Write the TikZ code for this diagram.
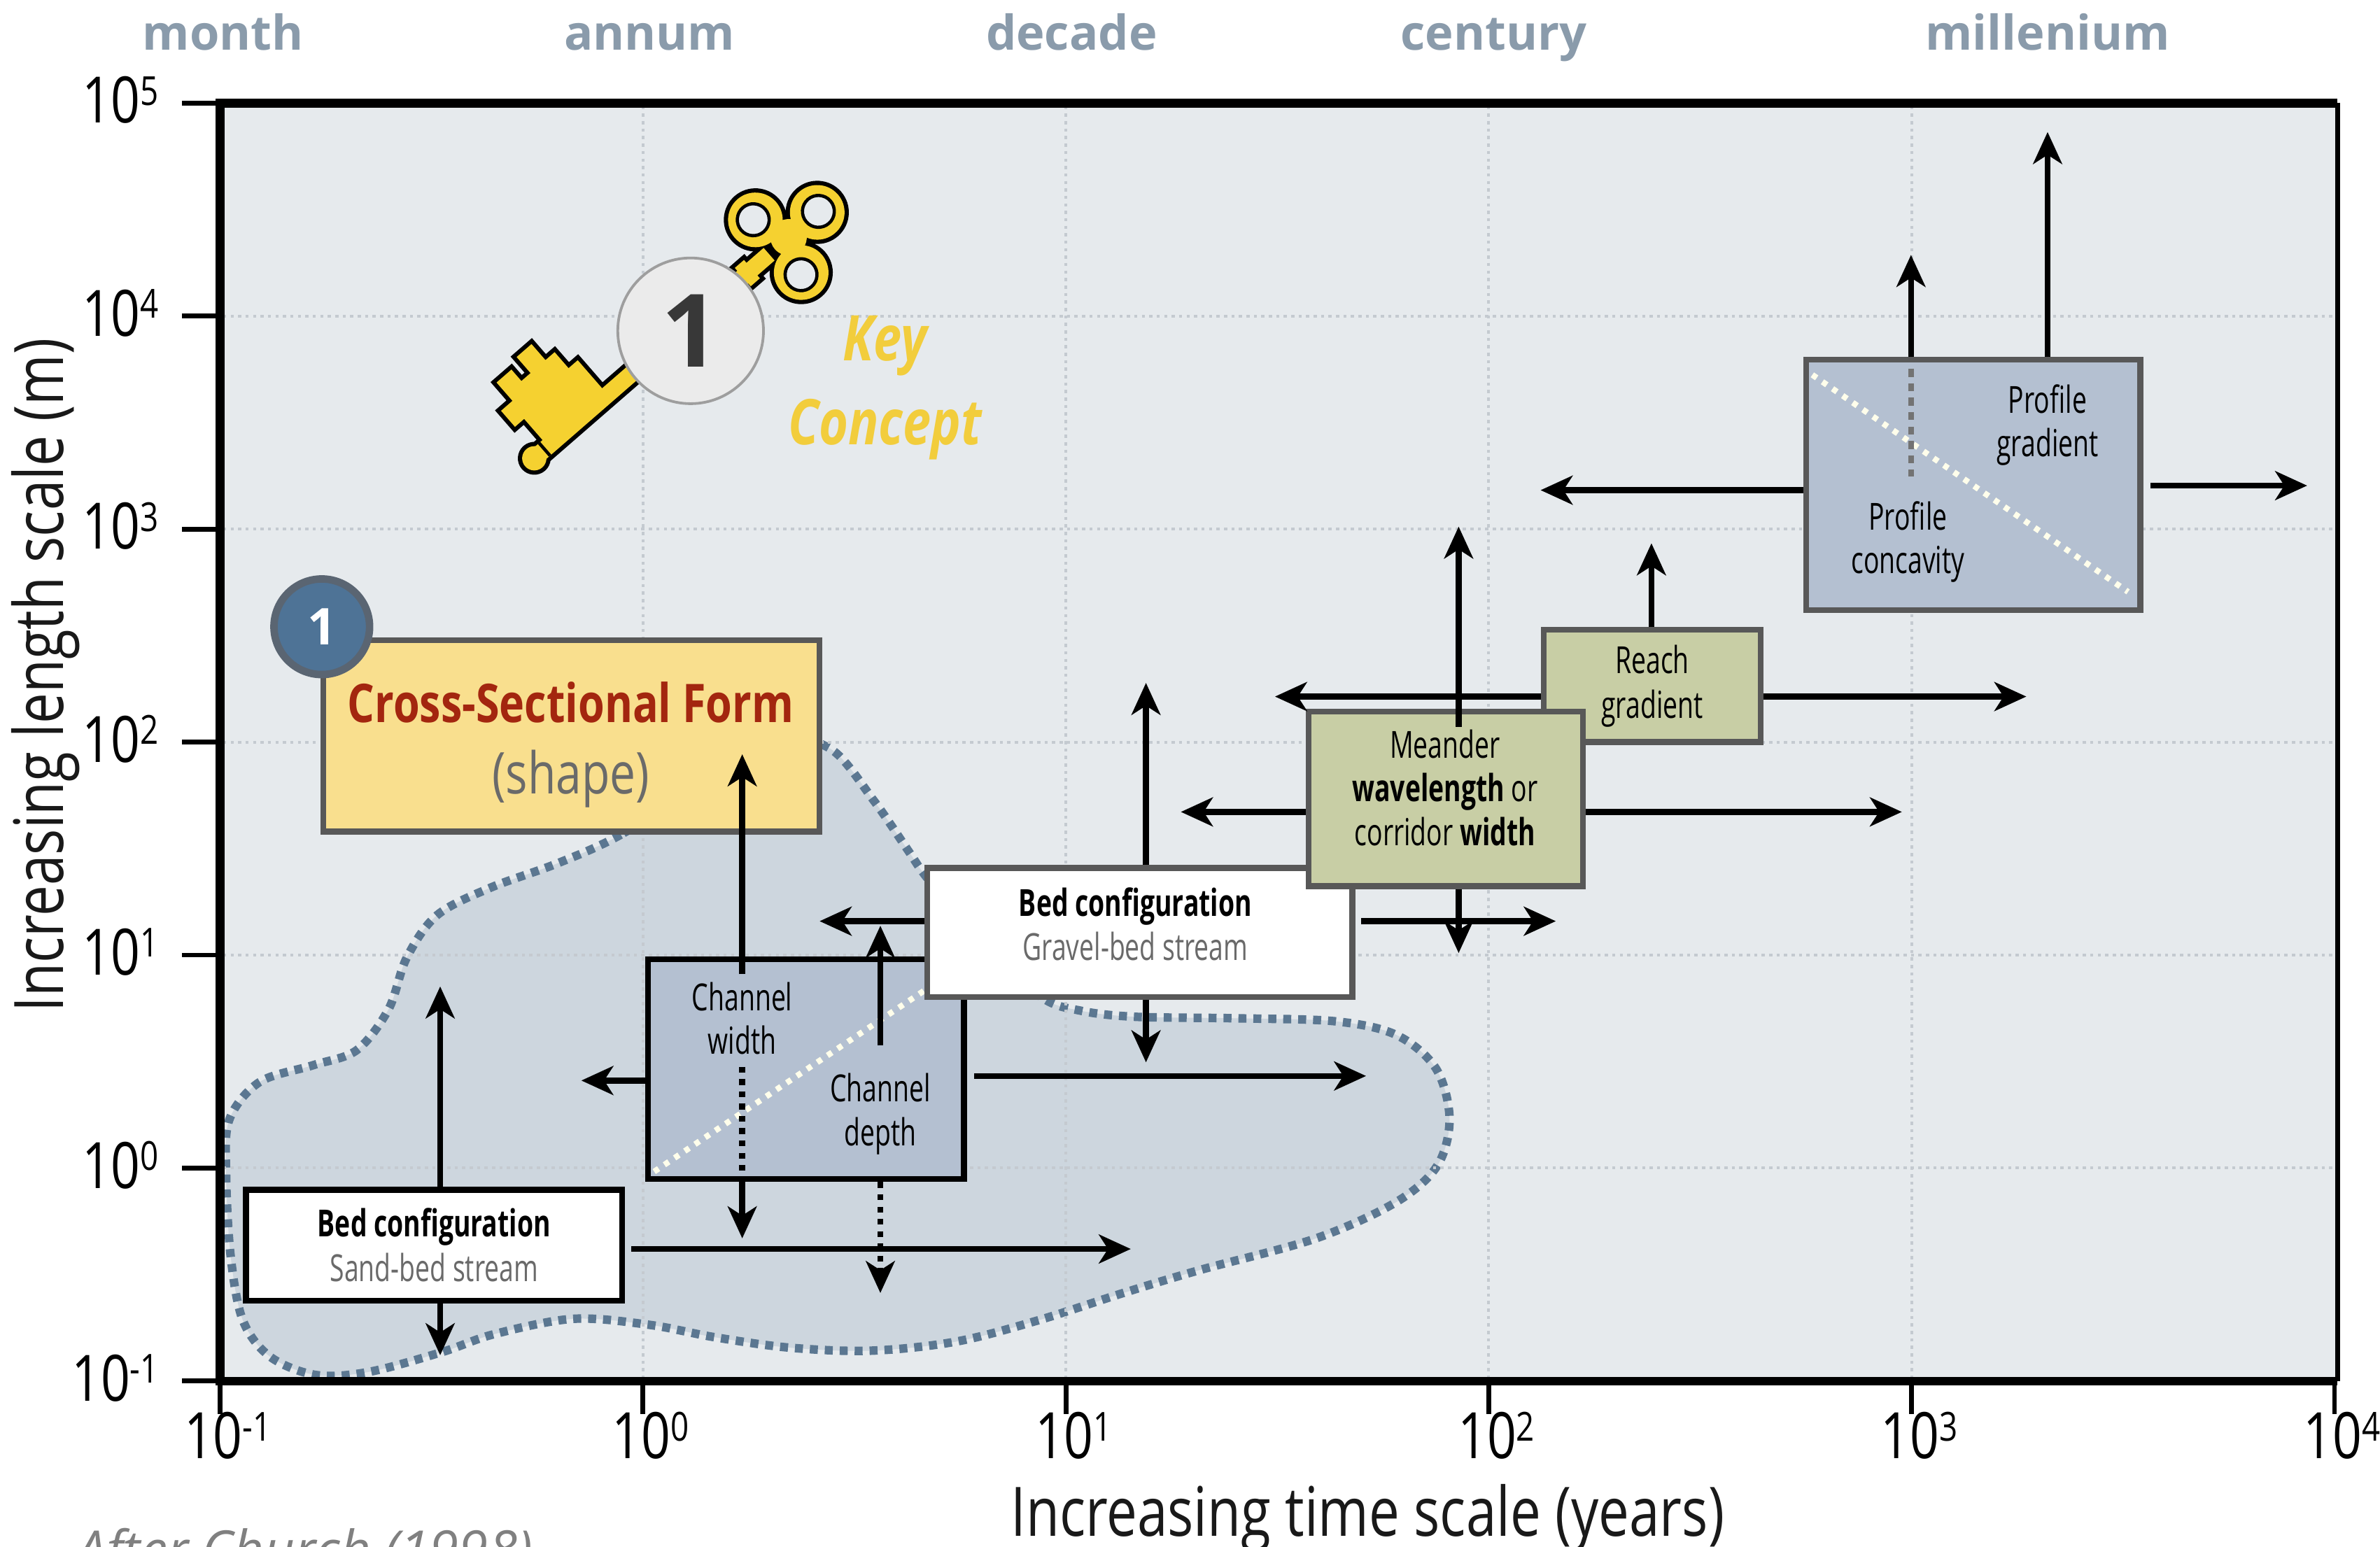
\documentclass[tikz,border=0pt]{standalone}
\usepackage{fontspec}
\setmainfont{Open Sans}
\newfontfamily\cond[FakeStretch=0.8]{Open Sans}
\newfontfamily\narrow[FakeStretch=0.7]{Open Sans}
\usetikzlibrary{arrows.meta}

\definecolor{plotbg}{HTML}{E6EAED}
\definecolor{blobfill}{HTML}{CDD6DE}
\definecolor{blobline}{HTML}{5B7791}
\definecolor{bluebox}{HTML}{B4C0D1}
\definecolor{olivebox}{HTML}{C8CEA5}
\definecolor{yellowbox}{HTML}{F9DF8E}
\definecolor{boxedge}{HTML}{585858}
\definecolor{gridgray}{HTML}{C4CAD0}
\definecolor{scalegray}{HTML}{8A9BAB}
\definecolor{keyyellow}{HTML}{F5D130}
\definecolor{conceptyellow}{HTML}{F2CD3C}
\definecolor{formred}{HTML}{A3260F}
\definecolor{badgeblue}{HTML}{4E7396}
\definecolor{badgeedge}{HTML}{5A6572}
\definecolor{subgray}{HTML}{6A6A6A}

% 10 to the power of #1
\newcommand\tenpow[1]{10\raisebox{0.28em}{\fontsize{7.5pt}{7.5pt}\selectfont#1}}

\tikzset{
  arr/.style={line width=1.1pt,-{Stealth[length=2.1mm,width=1.9mm,inset=0.6mm]}},
  dotarr/.style={arr,dash pattern=on 1.1pt off 1.2pt},
  dotline/.style={line width=1.1pt,dash pattern=on 1.1pt off 1.2pt},
  gridline/.style={gridgray,line width=0.5pt,dash pattern=on 0.6pt off 0.8pt},
  featbox/.style={draw=boxedge,line width=1.1pt,inner sep=0pt,align=center,
    font=\narrow\fontsize{7pt}{8.4pt}\selectfont},
  boxtext/.style={align=center,inner sep=0pt,font=\narrow\fontsize{7pt}{8.2pt}\selectfont},
  scalelab/.style={text=scalegray,anchor=base,font=\bfseries\fontsize{9pt}{9pt}\selectfont},
  ticklab/.style={font=\cond\fontsize{12pt}{12pt}\selectfont},
  axtitle/.style={text=black!90,font=\cond\fontsize{12.8pt}{12.8pt}\selectfont},
  keytext/.style={text=conceptyellow,font=\cond\bfseries\itshape\fontsize{11.8pt}{11.8pt}\selectfont},
  keyline/.style={draw=black,line width=1.6pt},
  keyfill/.style={fill=keyyellow},
}

\begin{document}
\begin{tikzpicture}[x=0.1mm,y=-0.1mm]
	\useasboundingbox (0,0) rectangle (1568,1019);
	%plot area
	\fill[plotbg] (145,68) rectangle (1540,910);
	%range of cross-sectional form
	\filldraw[fill=blobfill,draw=blobline,line width=1.6pt,dash pattern=on 1.5pt off 1.3pt]
		plot[smooth cycle,tension=0.55] coordinates {
		(470,512) (409,550) (367,569) (323,585) (288,603) (268,631) (256,665)
		(235,692) (206,702) (171,713) (151,738) (149,775) (152,828) (160,870)
		(178,894) (208,906) (243,904) (291,891) (326,879) (378,869) (428,873)
		(470,881) (520,888) (574,890) (630,884) (684,870) (740,852) (790,837)
		(867,816) (920,792) (947,768) (955,737) (946,704) (920,682) (880,673)
		(815,671) (748,670) (712,666) (686,657) (648,622) (612,580) (598,560)
		(576,528) (548,494) (515,488)};
	%grid
	\foreach \i in {1,...,4}
		\draw[gridline] ({145+278.6*\i},70) -- ({145+278.6*\i},908);
	\foreach \i in {1,...,5}
		\draw[gridline] (147,{910-140.33*\i}) -- (1538,{910-140.33*\i});
	%axes
	\draw[line width=0.9pt] (1540,68) -- (1540,910);
	\draw[line width=1.6pt,line join=miter] (1540,68) -- (145,68) -- (145,910) -- (1540,910);
	\foreach \e [count=\i from 0] in {-1,0,1,2,3,4,5} {
		\draw[line width=0.9pt] (120,{910-140.33*\i}) -- (145,{910-140.33*\i});
		\node[ticklab,anchor=east] (ly\i) at (117,{908-140.33*\i}) {\tenpow{\e}};
	}
	\foreach \e [count=\i from 0] in {-1,0,1,2,3,4} {
		\draw[line width=0.9pt] ({145+278.6*\i},910) -- ({145+278.6*\i},932);
		\node[ticklab] (lx\i) at ({150+278.6*\i},946) {\tenpow{\e}};
	}
	\node[axtitle,rotate=90] (ytitle) at (30,445) {Increasing length scale (m)};
	\node[axtitle,anchor=base] (xtitle) at (901,1012) {Increasing time scale (years)};
	\node[anchor=base west,text=black!50,font=\itshape\fontsize{10pt}{10pt}\selectfont]
		(source) at (38,1034) {After Church (1998)};
	%time scale names
	\foreach \lab/\xx in {month/147,annum/428,decade/706,century/984,millenium/1349}
		\node[scalelab] (t-\lab) at (\xx,33) {\lab};

	%key
	\begin{scope}[shift={(352,302)},rotate=41,x=0.1mm,y=0.1mm]
		\foreach \st in {keyline,keyfill} {
			\path[\st] (0,0) circle (8);
			\path[\st] (0,-5.5) rectangle (205,5.5);
			\path[\st] (12,5) -- (12,24) -- (4,24) -- (4,38) -- (14,38) -- (14,54)
				-- (27,54) -- (27,44) -- (35,44) -- (35,58) -- (48,58) -- (48,44)
				-- (56,44) -- (56,30) -- (64,30) -- (64,5) -- cycle;
			\path[\st] (166,-10) rectangle (176,10) (182,-8) rectangle (190,8);
			\path[\st] (247,0) circle (18) (213,23) circle (18) (213,-23) circle (18)
				(222,0) circle (12);
		}
		\draw[line width=0.6pt] (9,-5.5) -- (9,5.5);
		\filldraw[fill=plotbg,draw=black,line width=0.6pt]
			(248,0) circle (10.5) (212,24) circle (10.5) (212,-24) circle (10.5);
	\end{scope}
	\node[circle,fill=black!8,draw=black!38,line width=0.5pt,minimum size=9.6mm,
		text=black!78,font=\bfseries\fontsize{19pt}{19pt}\selectfont] (keynum) at (455,218) {1};
	\node[keytext] (key-a) at (583,228) {Key};
	\node[keytext] (key-b) at (583,283) {Concept};

	%boxes
	\node[featbox,fill=yellowbox,minimum width=32.7mm,minimum height=12.6mm] (form) at (376.5,485) {};
	\node[text=formred,font=\cond\bfseries\fontsize{10pt}{10pt}\selectfont] (form-a) at (376,463) {Cross-Sectional Form};
	\node[text=subgray,font=\cond\fontsize{10.8pt}{10.8pt}\selectfont] (form-b) at (376,513) {(shape)};
	\node[circle,fill=badgeblue,draw=badgeedge,line width=1.4pt,minimum size=6.3mm,inner sep=0pt,
		text=white,font=\bfseries\fontsize{9.5pt}{9.5pt}\selectfont] (badge) at (212,413) {1};

	\node[featbox,draw=black,fill=white,minimum width=24.8mm,minimum height=7.3mm] (sand) at (286,820.5)
		{\textbf{Bed configuration}\\{\color{subgray}Sand-bed stream}};
	\node[featbox,draw=black,fill=bluebox,minimum width=20.8mm,minimum height=14.5mm] (chan) at (531,704.5) {};
	\coordinate (cdiagA) at (431,772);
	\coordinate (cdiagB) at (613,650);
	\draw[white!92!yellow,line width=1.1pt,dash pattern=on 1pt off 1.3pt] (cdiagA) -- (cdiagB);
	\node[boxtext] (chan-w) at (489,671) {Channel\\width};
	\node[boxtext] (chan-d) at (580,734) {Channel\\depth};
	\node[featbox,fill=white,minimum width=28mm,minimum height=8.5mm] (grav) at (751,614.5) {};
	\node[boxtext] (grav-t) at (748,609) {\textbf{Bed configuration}\\{\color{subgray}Gravel-bed stream}};
	\node[featbox,fill=olivebox,minimum width=14.3mm,minimum height=7.4mm] (reach) at (1088.5,452)
		{Reach\\gradient};
	\node[featbox,fill=olivebox,minimum width=18.1mm,minimum height=11.5mm] (mean) at (952.5,526.5) {};
	\node[boxtext] (mean-t) at (952,519) {Meander\\\textbf{wavelength} or\\corridor \textbf{width}};
	\node[featbox,fill=bluebox,minimum width=22mm,minimum height=16.5mm] (prof) at (1300,319.5) {};
	\coordinate (pdiagA) at (1194,247);
	\coordinate (pdiagB) at (1402,390);
	\draw[white!92!yellow,line width=1.1pt,dash pattern=on 1pt off 1.3pt] (pdiagA) -- (pdiagB);
	\coordinate (pdash) at (1259,314);
	\draw[black!55,line width=1.1pt,dash pattern=on 1.5pt off 1.2pt] (prof.north -| pdash) ++(0,8) -- (pdash);
	\node[boxtext] (prof-g) at (1349,280) {Profile\\gradient};
	\node[boxtext] (prof-c) at (1257,357) {Profile\\concavity};

	%sand-bed arrows
	\coordinate (sandU) at (290,650);
	\coordinate (sandD) at (290,893);
	\coordinate (sandR) at (745,823);
	\draw[arr] (sand.north -| sandU) -- (sandU);
	\draw[arr] (sand.south -| sandD) -- (sandD);
	\draw[arr,shorten <=0.4mm] (sand.east |- sandR) -- (sandR);
	%channel arrows
	\coordinate (cwS) at (489,642);
	\coordinate (cwU) at (489,497);
	\coordinate (cwM) at (489,703);
	\coordinate (cwD) at (489,816);
	\draw[arr] (cwS) -- (cwU);
	\draw[dotline] (cwM) -- (chan.south -| cwM);
	\draw[arr] (chan.south -| cwD) -- (cwD);
	\coordinate (cdS) at (580,689);
	\coordinate (cdU) at (580,610);
	\coordinate (cdD) at (580,852);
	\draw[arr] (cdS) -- (cdU);
	\draw[dotarr] (chan.south -| cdD) -- (cdD);
	\coordinate (chanL) at (383,712);
	\coordinate (chanR) at (900,709);
	\draw[arr] (chan.west |- chanL) -- (chanL);
	\draw[arr,shorten <=0.5mm] (chan.east |- chanR) -- (chanR);
	%gravel-bed arrows
	\coordinate (gravL) at (540,607);
	\coordinate (gravR) at (1025,607);
	\coordinate (gravU) at (755,450);
	\coordinate (gravD) at (755,700);
	\draw[arr] (grav.west |- gravL) -- (gravL);
	\draw[arr,shorten <=0.4mm] (grav.east |- gravR) -- (gravR);
	\draw[arr] (grav.north -| gravU) -- (gravU);
	\draw[arr] (grav.south -| gravD) -- (gravD);
	%meander arrows
	\coordinate (meanS) at (961,479);
	\coordinate (meanU) at (961,347);
	\coordinate (meanD) at (961,628);
	\coordinate (meanL) at (778,535);
	\coordinate (meanR) at (1253,535);
	\draw[arr] (meanS) -- (meanU);
	\draw[arr] (mean.south -| meanD) -- (meanD);
	\draw[arr] (mean.west |- meanL) -- (meanL);
	\draw[arr] (mean.east |- meanR) -- (meanR);
	%reach arrows
	\coordinate (reachU) at (1088,358);
	\coordinate (reachL) at (840,459);
	\coordinate (reachR) at (1335,459);
	\draw[arr] (reach.north -| reachU) -- (reachU);
	\draw[arr] (reach.west |- reachL) -- (reachL);
	\draw[arr] (reach.east |- reachR) -- (reachR);
	%profile arrows
	\coordinate (profU1) at (1259,168);
	\coordinate (profU2) at (1349,87);
	\coordinate (profL) at (1015,323);
	\coordinate (profR) at (1520,320);
	\draw[arr] (prof.north -| profU1) -- (profU1);
	\draw[arr] (prof.north -| profU2) -- (profU2);
	\draw[arr] (prof.west |- profL) -- (profL);
	\draw[arr,shorten <=0.5mm] (prof.east |- profR) -- (profR);
\end{tikzpicture}
\end{document}
